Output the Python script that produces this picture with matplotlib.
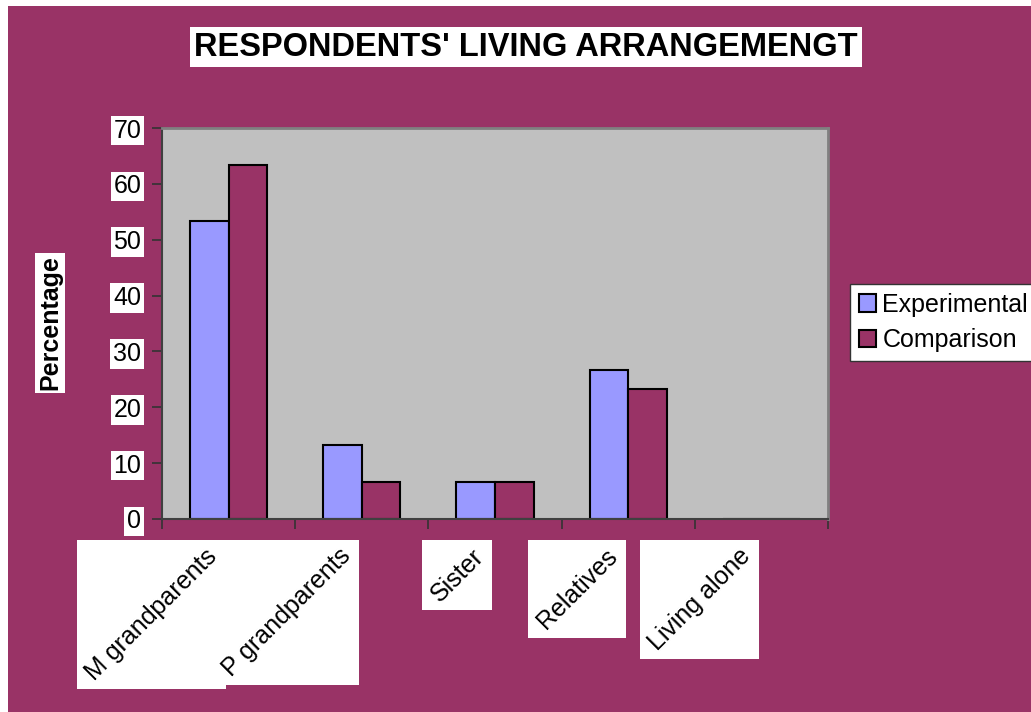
import matplotlib.pyplot as plt
import numpy as np
from matplotlib.patches import Rectangle

plt.rcParams['font.family'] = ['Liberation Sans', 'DejaVu Sans']

categories = ['M grandparents', 'P grandparents', 'Sister', 'Relatives', 'Living alone']
experimental = [53.3, 13.3, 6.7, 26.7, 0]
comparison = [63.3, 6.7, 6.7, 23.3, 0]
yticks = [0, 10, 20, 30, 40, 50, 60, 70]

maroon = '#993366'
W, H = 1031, 712
fig = plt.figure(figsize=(W / 100, H / 100), dpi=100, facecolor='white')
# maroon background, white strip left and top like the original
fig.patches.append(Rectangle((8 / W, 0), 1, 1 - 6 / H, transform=fig.transFigure,
                             facecolor=maroon, edgecolor='none', zorder=-10))

ax = fig.add_axes([162 / W, 1 - 519 / H, (828 - 162) / W, (519 - 128) / H])
ax.set_zorder(2)
ax.set_facecolor('#C0C0C0')

x = np.arange(len(categories))
bw = 0.29
ax.bar(x - bw / 2, experimental, bw, color='#9999FF', edgecolor='black', linewidth=1.5, label='Experimental')
ax.bar(x + bw / 2, comparison, bw, color=maroon, edgecolor='black', linewidth=1.5, label='Comparison')

ax.set_xlim(-0.5, len(categories) - 0.5)
ax.set_ylim(0, 70)
ax.set_xticks(np.arange(len(categories) + 1) - 0.5)
ax.set_xticklabels([])
ax.set_yticks(yticks)
ax.set_yticklabels([str(v) for v in yticks], fontsize=18)
ax.tick_params(axis='both', direction='out', length=7, width=1.2, color='#333333')
ax.tick_params(axis='y', pad=8)
for lbl in ax.get_yticklabels():
    lbl.set_bbox(dict(facecolor='white', edgecolor='none', pad=2))

for s in ['top', 'right']:
    ax.spines[s].set_color('#808080')
    ax.spines[s].set_linewidth(2)
for s in ['left', 'bottom']:
    ax.spines[s].set_color('#404040')
    ax.spines[s].set_linewidth(1.5)

# category labels, rotated, with upright white boxes
xlabels = []
for i, c in enumerate(categories):
    t = ax.text(i - 0.05, -4.5, c, rotation=45, ha='right', va='top', fontsize=18,
                transform=ax.transData, zorder=5, clip_on=False)
    xlabels.append(t)

fig.text(526 / W, 1 - 47 / H, "RESPONDENTS' LIVING ARRANGEMENGT", fontsize=23.5, fontweight='bold',
         ha='center', va='center', bbox=dict(facecolor='white', edgecolor='none', pad=3))
fig.text(50 / W, 1 - 323 / H, 'Percentage', fontsize=18, fontweight='bold', rotation=90,
         ha='center', va='center', bbox=dict(facecolor='white', edgecolor='none', pad=2))

leg = fig.legend(loc='upper left', bbox_to_anchor=(850 / W, 1 - 284 / H), fontsize=18,
                 frameon=True, fancybox=False, edgecolor='#333333', facecolor='white', framealpha=1,
                 handlelength=0.7, handleheight=0.7, handletextpad=0.25, borderpad=0.35, labelspacing=0.45,
                 borderaxespad=0)

fig.canvas.draw()
inv = fig.transFigure.inverted()
for t in xlabels:
    bb = t.get_window_extent()
    (x0, y0), (x1, y1) = inv.transform([(bb.x0 - 4, bb.y0 - 4), (bb.x1 + 4, bb.y1 + 4)])
    fig.patches.append(Rectangle((x0, y0), x1 - x0, y1 - y0, transform=fig.transFigure,
                                 facecolor='white', edgecolor='none', zorder=1))

fig.savefig('out.png', dpi=100, facecolor=fig.get_facecolor())
